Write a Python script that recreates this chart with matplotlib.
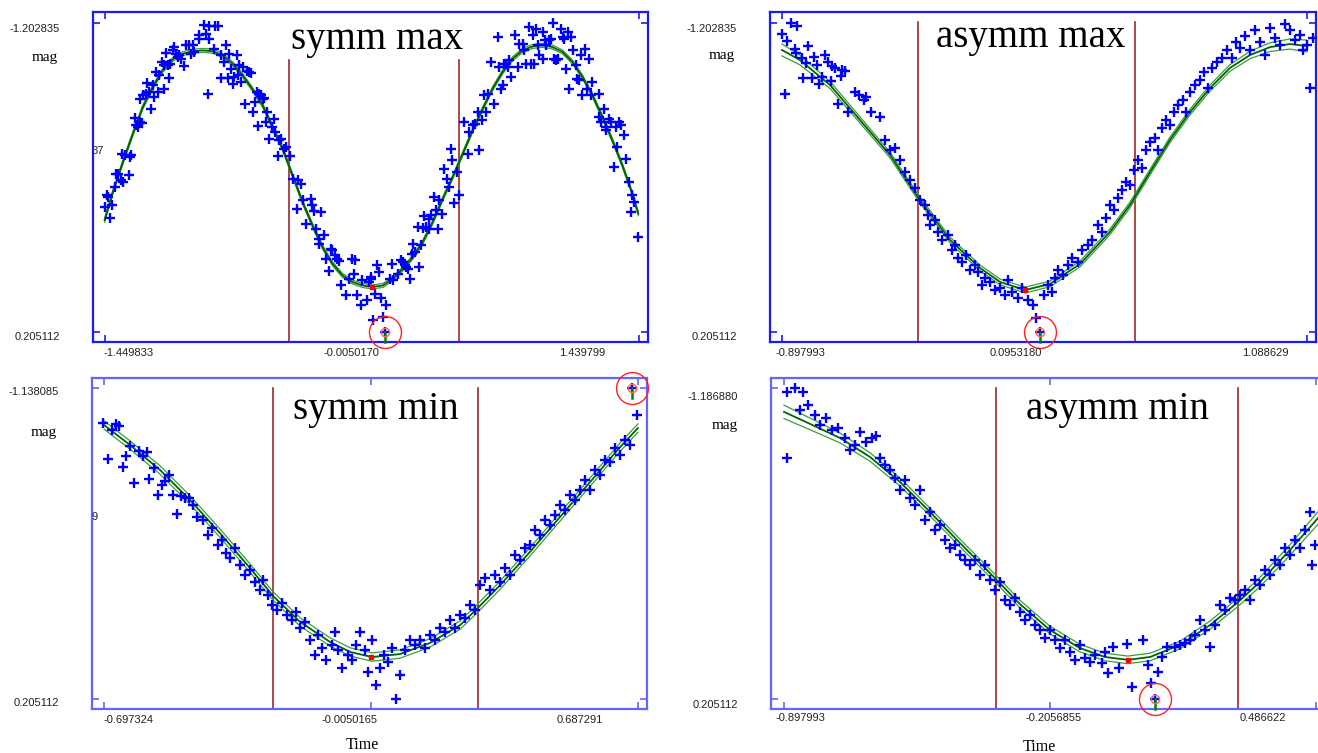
import numpy as np
import matplotlib.pyplot as plt

W, H = 1318, 753

# ---------------- symm max (top left) ----------------
tl_time = [
    -1.452, -1.439, -1.434, -1.425, -1.410, -1.398, -1.389, -1.380, -1.362, -1.353,
    -1.356, -1.344, -1.320, -1.317, -1.308, -1.290, -1.281, -1.272, -1.263, -1.250,
    -1.263, -1.245, -1.230, -1.221, -1.212, -1.200, -1.191, -1.182, -1.173, -1.164,
    -1.155, -1.140, -1.133, -1.128, -1.119, -1.110, -1.101, -1.097, -1.083, -1.074,
    -1.065, -1.056, -1.047, -1.038, -1.020, -1.011, -0.996, -0.975, -0.984, -0.966,
    -0.942, -0.939, -0.912, -0.903, -0.885, -0.885, -0.852, -0.836, -0.894, -0.858,
    -0.822, -0.822, -0.804, -0.795, -0.786, -0.777, -0.768, -0.759, -0.750, -0.737,
    -0.732, -0.723, -0.714, -0.705, -0.683, -0.669, -0.690, -0.660, -0.651, -0.636,
    -0.629, -0.624, -0.615, -0.606, -0.597, -0.588, -0.579, -0.575, -0.561, -0.548,
    -0.534, -0.528, -0.512, -0.507, -0.498, -0.480, -0.471, -0.449, -0.435, -0.413,
    -0.406, -0.391, -0.381, -0.363, -0.336, -0.332, -0.318, -0.309, -0.282, -0.294,
    -0.291, -0.264, -0.255, -0.240, -0.228, -0.219, -0.204, -0.192, -0.186, -0.174,
    -0.147, -0.129, -0.111, -0.102, -0.096, -0.084, -0.066, -0.057, -0.030, -0.021,
    -0.012,
    -0.010, 0.009, 0.021, 0.032, 0.045, 0.054, 0.072, 0.003, 0.090, 0.104,
    0.108, 0.135, 0.153, 0.162, 0.171, 0.180, 0.189, 0.198, 0.216, 0.225,
    0.212, 0.252, 0.261, 0.243, 0.270, 0.279, 0.288, 0.302, 0.306, 0.315,
    0.333, 0.342, 0.351, 0.360, 0.374, 0.387, 0.399, 0.410, 0.423, 0.428,
    0.441, 0.453, 0.464, 0.495, 0.513, 0.522, 0.540, 0.554, 0.567, 0.576,
    0.590, 0.603, 0.612, 0.621, 0.639, 0.657, 0.675, 0.684, 0.693, 0.702,
    0.711, 0.720, 0.729, 0.738, 0.747, 0.770, 0.783, 0.792, 0.810, 0.819,
    0.828, 0.842, 0.855, 0.864, 0.873, 0.882, 0.891, 0.900, 0.918, 0.921,
    0.932, 0.936, 0.954, 0.963, 0.972, 0.981, 0.990, 0.999, 1.017, 1.026,
    1.035, 1.044, 1.053, 1.062, 1.071, 1.083, 1.098, 1.107, 1.116, 1.125,
    1.134, 1.148, 1.161, 1.170, 1.179, 1.188, 1.224, 1.224, 1.233, 1.251,
    1.260, 1.263, 1.278, 1.287, 1.305, 1.314, 1.323, 1.332, 1.341, 1.359,
    1.368, 1.386, 1.404, 1.395, 1.413, 1.436,
]
tl_mag = [
    -0.364, -0.417, -0.410, -0.316, -0.375, -0.455, -0.513, -0.516, -0.486, -0.478,
    -0.607, -0.600, -0.512, -0.592, -0.600, -0.770, -0.736, -0.729, -0.752, -0.747,
    -0.858, -0.873, -0.881, -0.931, -0.888, -0.812, -0.919, -0.866, -0.980, -0.888,
    -0.964, -1.025, -1.010, -0.904, -1.068, -1.010, -0.952, -1.017, -1.078, -1.093,
    -1.063, -1.048, -1.055, -1.040, -1.005, -1.101, -1.101, -1.101, -1.063, -1.071,
    -1.147, -1.131, -1.195, -1.154, -1.131, -1.189, -1.189, -1.189, -0.878, -1.083,
    -1.055, -0.952, -1.025, -1.101, -0.952, -1.063, -0.995, -0.926, -0.957, -1.055,
    -0.964, -1.013, -0.934, -1.002, -0.983, -0.980, -0.835, -0.977, -0.797, -0.843,
    -0.888, -0.733, -0.881, -0.873, -0.858, -0.861, -0.752, -0.797, -0.676, -0.729,
    -0.767, -0.706, -0.597, -0.668, -0.673, -0.630, -0.638, -0.597, -0.493, -0.357,
    -0.486, -0.471, -0.395, -0.288, -0.402, -0.375, -0.345, -0.266, -0.342, -0.220,
    -0.197, -0.235, -0.129, -0.071, -0.174, -0.167, -0.144, -0.129, -0.117, -0.007,
    0.038, -0.038, -0.126, -0.061, -0.121, 0.038, 0.084, -0.030, 0.061, -0.023,
    -0.038,
    -0.045, 0.031, -0.099, -0.068, 0.049, 0.137, 0.081, 0.152, -0.038, -0.106,
    -0.030, -0.061, -0.121, -0.114, -0.099, -0.091, -0.083, -0.038, -0.197, -0.159,
    -0.152, -0.091, -0.190, -0.273, -0.269, -0.323, -0.273, -0.266, -0.311, -0.326,
    -0.410, -0.349, -0.266, -0.395, -0.334, -0.539, -0.493, -0.455, -0.630, -0.577,
    -0.384, -0.524, -0.417, -0.752, -0.607, -0.706, -0.736, -0.744, -0.797, -0.622,
    -0.759, -0.873, -0.797, -0.881, -1.025, -0.835, -1.139, -1.002, -0.904, -0.919,
    -1.017, -1.017, -1.002, -1.033, -0.957, -1.147, -1.002, -1.109, -1.109, -1.078,
    -1.017, -1.185, -1.017, -1.147, -1.017, -1.177, -1.101, -1.055, -1.040, -1.162,
    -1.124, -1.101, -1.124, -1.131, -1.2028, -1.040, -1.033, -1.040, -1.177, -1.139,
    -1.131, -0.995, -1.162, -0.904, -1.139, -1.078, -1.010, -0.949, -0.942, -1.055,
    -0.873, -1.086, -0.904, -1.040, -0.873, -0.934, -0.881, -0.774, -0.752, -0.812,
    -0.714, -0.729, -0.767, -0.752, -0.547, -0.729, -0.638, -0.752, -0.737, -0.691,
    -0.585, -0.478, -0.417, -0.342, -0.387, -0.228,
]
tl_fit_time = [
    -1.452, -1.407, -1.353, -1.299, -1.245, -1.191, -1.137, -1.083, -1.029, -0.975,
    -0.921, -0.867, -0.813, -0.759, -0.705, -0.651, -0.597, -0.543, -0.489, -0.435,
    -0.381, -0.327, -0.273, -0.219, -0.165, -0.111, -0.057, -0.003, 0.054, 0.108,
    0.162, 0.216, 0.270, 0.324, 0.378, 0.432, 0.486, 0.540, 0.594, 0.648,
    0.702, 0.756, 0.810, 0.864, 0.918, 0.972, 1.026, 1.080, 1.134, 1.188,
    1.242, 1.296, 1.350, 1.404, 1.436,
]
tl_fit_mag = [
    -0.304, -0.433, -0.569, -0.698, -0.820, -0.911, -0.987, -1.037, -1.063, -1.074,
    -1.078, -1.074, -1.055, -1.017, -0.964, -0.900, -0.828, -0.729, -0.630, -0.509,
    -0.387, -0.281, -0.182, -0.106, -0.053, -0.023, -0.007, 0.000, -0.007, -0.038,
    -0.083, -0.136, -0.205, -0.296, -0.402, -0.501, -0.607, -0.714, -0.812, -0.904,
    -0.980, -1.040, -1.078, -1.096, -1.101, -1.093, -1.071, -1.025, -0.957, -0.873,
    -0.774, -0.668, -0.554, -0.425, -0.334,
]
tl_band = 0.009
tl_lines = [-0.4526, 0.4675]
tl_lines_top = -1.034
tl_extr = (-0.005, 0.000)
tl_circled = (0.063, 0.205112)

# ---------------- asymm max (top right) ----------------
tr_time = [
    -0.899, -0.865, -0.842, -0.880, -0.849, -0.798, -0.845, -0.823, -0.777, -0.808,
    -0.767, -0.735, -0.725, -0.710, -0.697, -0.672, -0.660, -0.817, -0.786, -0.748,
    -0.757, -0.714, -0.676, -0.887, -0.622, -0.605, -0.588, -0.580, -0.685, -0.647,
    -0.562, -0.527, -0.508, -0.489, -0.470, -0.451, -0.433, -0.414, -0.395, -0.376,
    -0.357, -0.345, -0.338, -0.319, -0.308, -0.293, -0.270, -0.255, -0.243, -0.232,
    -0.217, -0.202, -0.187, -0.168, -0.156, -0.141, -0.130, -0.111, -0.092, -0.073,
    -0.054, -0.043, -0.028, -0.005, 0.010, 0.033, 0.052, 0.063, 0.093, 0.109,
    0.124, 0.135, 0.146, 0.165, 0.184, 0.199, 0.222, 0.237, 0.260, 0.275,
    0.298, 0.313, 0.328, 0.343, 0.358, 0.373, 0.389, 0.404, 0.419, 0.434,
    0.449, 0.464, 0.479, 0.495, 0.514, 0.525, 0.540, 0.555, 0.570, 0.585,
    0.600, 0.619, 0.631, 0.646, 0.665, 0.684, 0.699, 0.714, 0.729, 0.748,
    0.767, 0.786, 0.805, 0.821, 0.836, 0.854, 0.873, 0.892, 0.911, 0.930,
    0.949, 0.968, 0.987, 1.006, 1.025, 1.043, 1.062, 1.074, 1.089, 1.100,
    1.111,
]
tr_mag = [
    -1.153, -1.2028, -1.190, -1.122, -1.083, -1.099, -1.065, -1.042, -1.047, -1.022,
    -1.010, -1.057, -1.027, -1.007, -0.996, -0.989, -0.986, -0.954, -0.954, -0.958,
    -0.924, -0.939, -0.961, -0.878, -0.890, -0.875, -0.852, -0.867, -0.834, -0.799,
    -0.799, -0.773, -0.670, -0.624, -0.633, -0.579, -0.524, -0.488, -0.451, -0.396,
    -0.374, -0.328, -0.283, -0.305, -0.251, -0.214, -0.237, -0.169, -0.191, -0.132,
    -0.114, -0.146, -0.078, -0.100, -0.068, -0.009, -0.041, -0.023, 0.013, 0.004,
    0.036, -0.032, 0.023, 0.050, 0.004, 0.059, 0.082, 0.141, 0.036, -0.009,
    0.023, -0.041, -0.078, -0.055, -0.100, -0.132, -0.114, -0.169, -0.191, -0.214,
    -0.283, -0.251, -0.314, -0.374, -0.351, -0.406, -0.442, -0.478, -0.465, -0.533,
    -0.579, -0.542, -0.624, -0.661, -0.679, -0.624, -0.724, -0.761, -0.738, -0.797,
    -0.829, -0.852, -0.797, -0.888, -0.920, -0.943, -0.980, -0.907, -0.998, -1.025,
    -1.043, -1.080, -1.043, -1.116, -1.089, -1.144, -1.080, -1.171, -1.116, -1.057,
    -1.180, -1.134, -1.103, -1.198, -1.171, -1.125, -1.148, -1.080, -1.103, -0.907,
    -1.134,
]
tr_fit_time = [-0.898, -0.830, -0.716, -0.603, -0.489, -0.376, -0.262, -0.149, -0.073, 0.022,
               0.116, 0.230, 0.343, 0.419, 0.495, 0.570, 0.646, 0.722, 0.797, 0.873,
               0.949, 1.024, 1.088]
tr_fit_mag = [-1.080, -1.034, -0.920, -0.761, -0.601, -0.396, -0.214, -0.087, -0.023, 0.014,
              -0.014, -0.105, -0.251, -0.374, -0.524, -0.670, -0.797, -0.907, -0.998, -1.057,
              -1.093, -1.107, -1.098]
tr_band = [0.027, 0.022, 0.016, 0.014, 0.013, 0.013, 0.013, 0.013, 0.013, 0.013,
           0.013, 0.013, 0.013, 0.013, 0.013, 0.013, 0.013, 0.014, 0.015, 0.017,
           0.020, 0.023, 0.027]
tr_lines = [-0.383, 0.438]
tr_lines_top = -1.207
tr_extr = (0.022, 0.014)
tr_circled = (0.078, 0.205112)

# ---------------- symm min (bottom left) ----------------
bl_time = [
    -0.699, -0.677, -0.666, -0.658, -0.688, -0.649, -0.640, -0.630, -0.620, -0.606,
    -0.597, -0.587, -0.580, -0.568, -0.557, -0.548, -0.539, -0.528, -0.519, -0.507,
    -0.498, -0.487, -0.476, -0.467, -0.455, -0.441, -0.428, -0.417, -0.402, -0.391,
    -0.381, -0.371, -0.358, -0.345, -0.332, -0.319, -0.306, -0.293, -0.285, -0.272,
    -0.262, -0.249, -0.236, -0.223, -0.210, -0.199, -0.189, -0.176, -0.163, -0.150,
    -0.142, -0.132, -0.122, -0.106, -0.098, -0.091, -0.080, -0.065, -0.054, -0.044,
    -0.033, -0.021, -0.013, -0.002, 0.008, 0.019, 0.029, 0.039, 0.050, 0.060,
    0.070, 0.083, 0.096, 0.109, 0.122, 0.135, 0.148, 0.161, 0.174, 0.187,
    0.200, 0.213, 0.226, 0.239, 0.252, 0.265, 0.278, 0.291, 0.304, 0.317,
    0.330, 0.343, 0.355, 0.368, 0.381, 0.394, 0.407, 0.420, 0.433, 0.446,
    0.459, 0.472, 0.485, 0.498, 0.511, 0.524, 0.537, 0.550, 0.563, 0.576,
    0.589, 0.602, 0.615, 0.628, 0.641, 0.654, 0.667, 0.685,
]
bl_mag = [
    -0.986, -0.957, -0.983, -0.975, -0.830, -0.796, -0.844, -0.888, -0.729, -0.867,
    -0.844, -0.863, -0.744, -0.791, -0.676, -0.719, -0.738, -0.762, -0.676, -0.593,
    -0.672, -0.662, -0.662, -0.633, -0.582, -0.568, -0.503, -0.533, -0.460, -0.482,
    -0.425, -0.404, -0.447, -0.374, -0.330, -0.352, -0.300, -0.266, -0.309, -0.244,
    -0.201, -0.179, -0.210, -0.158, -0.136, -0.171, -0.102, -0.127, -0.050, 0.015,
    -0.071, -0.015, 0.037, -0.028, -0.084, -0.006, 0.071, 0.015, 0.037, -0.028,
    -0.084, -0.006, 0.089, -0.050, 0.145, 0.071, 0.015, 0.045, -0.015, 0.205112,
    0.102, -0.006, -0.050, -0.028, -0.050, -0.015, -0.071, -0.050, -0.102, -0.084,
    -0.136, -0.102, -0.158, -0.145, -0.201, -0.179, -0.287, -0.317, -0.266, -0.330,
    -0.300, -0.361, -0.330, -0.417, -0.395, -0.447, -0.460, -0.525, -0.503, -0.568,
    -0.546, -0.590, -0.633, -0.611, -0.676, -0.654, -0.698, -0.741, -0.698, -0.784,
    -0.762, -0.827, -0.818, -0.879, -0.849, -0.913, -0.892, -1.021,
]
bl_fit_time = [-0.697, -0.630, -0.552, -0.474, -0.397, -0.319, -0.259, -0.189, -0.111, -0.059,
               -0.002, 0.070, 0.148, 0.226, 0.272, 0.330, 0.407, 0.485, 0.563, 0.641, 0.687]
bl_fit_mag = [-0.978, -0.892, -0.784, -0.654, -0.512, -0.361, -0.240, -0.128, -0.041, 0.002,
              0.024, 0.011, -0.037, -0.114, -0.188, -0.287, -0.430, -0.581, -0.732, -0.883, -0.965]
bl_band = 0.018
bl_lines = [-0.259, 0.272]
bl_lines_top = -1.138
bl_extr = (-0.005, 0.024)
bl_circled = (0.672, -1.138085)

# ---------------- asymm min (bottom right) ----------------
br_time = [
    -0.890, -0.869, -0.848, -0.890, -0.856, -0.836, -0.817, -0.804, -0.789, -0.773,
    -0.757, -0.739, -0.726, -0.713, -0.700, -0.684, -0.669, -0.658, -0.648, -0.635,
    -0.622, -0.609, -0.596, -0.583, -0.570, -0.557, -0.544, -0.531, -0.518, -0.505,
    -0.492, -0.479, -0.466, -0.453, -0.440, -0.427, -0.414, -0.401, -0.388, -0.375,
    -0.362, -0.349, -0.336, -0.323, -0.310, -0.297, -0.284, -0.271, -0.258, -0.245,
    -0.232, -0.219, -0.206, -0.193, -0.180, -0.167, -0.154, -0.141, -0.128, -0.115,
    -0.102, -0.089, -0.070, -0.062, -0.055, -0.042, -0.026, -0.005, 0.008, 0.036,
    0.049, 0.057, 0.075, 0.086, 0.099, 0.120, 0.133, 0.146, 0.159, 0.172,
    0.185, 0.198, 0.211, 0.224, 0.237, 0.250, 0.263, 0.276, 0.289, 0.302,
    0.315, 0.328, 0.341, 0.354, 0.367, 0.380, 0.393, 0.406, 0.419, 0.432,
    0.445, 0.458, 0.471, 0.476, 0.484,
]
br_mag = [
    -1.169, -1.18688, -1.169, -0.874, -1.088, -1.111, -1.066, -1.021, -1.053, -0.999,
    -1.008, -0.963, -0.909, -0.932, -0.990, -0.945, -0.963, -0.972, -0.874, -0.842,
    -0.820, -0.784, -0.730, -0.775, -0.695, -0.663, -0.730, -0.596, -0.632, -0.551,
    -0.574, -0.507, -0.471, -0.484, -0.439, -0.417, -0.395, -0.417, -0.350, -0.395,
    -0.328, -0.283, -0.319, -0.238, -0.216, -0.247, -0.184, -0.149, -0.171, -0.126,
    -0.104, -0.068, -0.104, -0.059, -0.023, -0.059, -0.005, 0.030, -0.037, 0.021,
    0.039, 0.008, 0.044, -0.005, 0.089, -0.028, 0.066, -0.041, 0.151, -0.059,
    0.053, 0.133, 0.084, 0.017, -0.028, -0.028, -0.037, -0.046, -0.059, -0.081,
    -0.148, -0.104, -0.028, -0.126, -0.216, -0.193, -0.247, -0.238, -0.260, -0.283,
    -0.238, -0.328, -0.305, -0.372, -0.350, -0.417, -0.395, -0.471, -0.439, -0.507,
    -0.471, -0.551, -0.632, -0.395, -0.484,
]
br_fit_time = [-0.898, -0.830, -0.752, -0.674, -0.596, -0.518, -0.440, -0.349, -0.284, -0.206,
               -0.128, -0.063, -0.003, 0.055, 0.133, 0.211, 0.284, 0.341, 0.419, 0.492]
br_fit_mag = [-1.080, -1.026, -0.963, -0.878, -0.766, -0.632, -0.493, -0.336, -0.220, -0.104,
              -0.023, 0.017, 0.030, 0.017, -0.037, -0.126, -0.229, -0.319, -0.462, -0.605]
br_band = [0.030, 0.026, 0.022, 0.019, 0.018, 0.017, 0.017, 0.017, 0.017, 0.017,
           0.017, 0.017, 0.017, 0.017, 0.017, 0.018, 0.019, 0.021, 0.024, 0.028]
br_lines = [-0.346, 0.284]
br_lines_top = -1.187
br_extr = (-0.003, 0.030)
br_circled = (0.068, 0.205112)

SANS = ['Liberation Sans', 'DejaVu Sans']
SERIF = ['Liberation Serif', 'DejaVu Serif']

fig = plt.figure(figsize=(W / 100, H / 100), dpi=100)
fig.patch.set_facecolor('white')


def ftext(x, y, s, **kw):
    fig.text(x / W, 1 - y / H, s, **kw)


def panel(frame, xpix, xval, ypix, yval, fcolor, xmid=None):
    left, top, right, bottom = frame
    ax = fig.add_axes([left / W, 1 - bottom / H, (right - left) / W, (bottom - top) / H])
    sx = (xval[1] - xval[0]) / (xpix[1] - xpix[0])
    ax.set_xlim(xval[0] - (xpix[0] - left) * sx, xval[1] + (right - xpix[1]) * sx)
    sy = (yval[1] - yval[0]) / (ypix[1] - ypix[0])
    ax.set_ylim(yval[1] + (bottom - ypix[1]) * sy, yval[0] - (ypix[0] - top) * sy)
    xt = list(xval) if xmid is None else [xval[0], xmid, xval[1]]
    ax.set_xticks(xt)
    ax.set_yticks(list(yval))
    ax.tick_params(direction='in', length=5, width=1.2, colors=fcolor,
                   top=True, right=True, labelbottom=False, labelleft=False)
    for sp in ax.spines.values():
        sp.set_color(fcolor)
        sp.set_linewidth(1.6)
    return ax, sy


def draw(ax, sy, t, m, ft, fm, band, lines, ltop, extr, circ):
    ft = np.array(ft)
    fm = np.array(fm)
    band = np.broadcast_to(np.array(band, dtype=float), fm.shape)
    ybot = ax.get_ylim()[0]
    for x in lines:
        ax.plot([x, x], [ltop, ybot], color='#a02828', lw=1.2, zorder=1)
    ax.plot(ft, fm - band, color='#3c9c3c', lw=0.9, zorder=2)
    ax.plot(ft, fm + band, color='#3c9c3c', lw=0.9, zorder=2)
    ax.plot(ft, fm, color='#006400', lw=1.3, zorder=2)
    ax.plot(t, m, '+', color='#0000ff', ms=7, mew=1.7, zorder=3)
    ax.plot(*circ, '+', color='#0000ff', ms=7, mew=1.7, zorder=3, clip_on=False)
    ax.plot([circ[0], circ[0]], [circ[1], circ[1] + 10 * sy], color='#008000', lw=1.8,
            zorder=4, clip_on=False)
    ax.plot(*circ, 'o', mfc='none', mec='#ff6060', ms=6, mew=1.0, zorder=4, clip_on=False)
    ax.plot(*circ, 'o', mfc='none', mec='#ff2020', ms=23, mew=1.0, zorder=4, clip_on=False)
    ax.plot(*extr, 's', color='#ff0000', ms=3.5, zorder=5)


# panels: frame (left, top, right, bottom) in pixels
ax1, s1 = panel((93, 12, 648, 342), (105, 639), (-1.449833, 1.439799), (23, 332),
                (-1.202835, 0.205112), '#1a1aff')
draw(ax1, s1, tl_time, tl_mag, tl_fit_time, tl_fit_mag, tl_band, tl_lines, tl_lines_top,
     tl_extr, tl_circled)

ax2, s2 = panel((770, 12, 1316, 342), (782, 1307), (-0.897993, 1.088629), (23, 332),
                (-1.202835, 0.205112), '#1a1aff')
draw(ax2, s2, tr_time, tr_mag, tr_fit_time, tr_fit_mag, tr_band, tr_lines, tr_lines_top,
     tr_extr, tr_circled)

ax3, s3 = panel((92, 378, 647, 709), (104, 638), (-0.697324, 0.687291), (388, 699),
                (-1.138085, 0.205112), '#6464ff', xmid=-0.0050165)
draw(ax3, s3, bl_time, bl_mag, bl_fit_time, bl_fit_mag, bl_band, bl_lines, bl_lines_top,
     bl_extr, bl_circled)

ax4, s4 = panel((771, 378, 1325, 709), (784, 1316), (-0.897993, 0.486622), (388, 699),
                (-1.186880, 0.205112), '#6464ff', xmid=-0.2056855)
draw(ax4, s4, br_time, br_mag, br_fit_time, br_fit_mag, br_band, br_lines, br_lines_top,
     br_extr, br_circled)

# titles
for x, y, s in [(377, 40, 'symm max'), (1031, 38, 'asymm max'),
                (376, 410, 'symm min'), (1118, 410, 'asymm min')]:
    ftext(x, y, s, ha='center', va='center', fontsize=28, family=SERIF)

# y tick labels and "mag"
tick_kw = dict(fontsize=8, family=SANS, va='center', color='#222222')
for x, y, s in [(60, 29, '-1.202835'), (60, 337, '0.205112'),
                (737, 29, '-1.202835'), (737, 337, '0.205112'),
                (59, 392, '-1.138085'), (59, 703, '0.205112'),
                (738, 397, '-1.186880'), (738, 705, '0.205112')]:
    ftext(x, y, s, ha='right', **tick_kw)
for x, y in [(58, 57), (735, 55), (57, 432), (738, 425)]:
    ftext(x, y, 'mag', ha='right', va='center', fontsize=11, family=SERIF)
ftext(92, 151, '37', ha='left', **tick_kw)
ftext(91, 517, '9', ha='left', **tick_kw)

# x tick labels
for x, y, s in [(104, 353, '-1.449833'), (323, 353, '-0.0050170'), (559, 353, '1.439799'),
                (775, 353, '-0.897993'), (990, 353, '0.0953180'), (1242, 353, '1.088629'),
                (103, 720, '-0.697324'), (322, 720, '-0.0050165'), (557, 720, '0.687291'),
                (775, 718, '-0.897993'), (1026, 718, '-0.2056855'), (1240, 718, '0.486622')]:
    ftext(x, y, s, ha='left', **tick_kw)

ftext(362, 745, 'Time', ha='center', va='center', fontsize=11.5, family=SERIF)
ftext(1039, 747, 'Time', ha='center', va='center', fontsize=11.5, family=SERIF)

fig.savefig('out.png', dpi=100)
